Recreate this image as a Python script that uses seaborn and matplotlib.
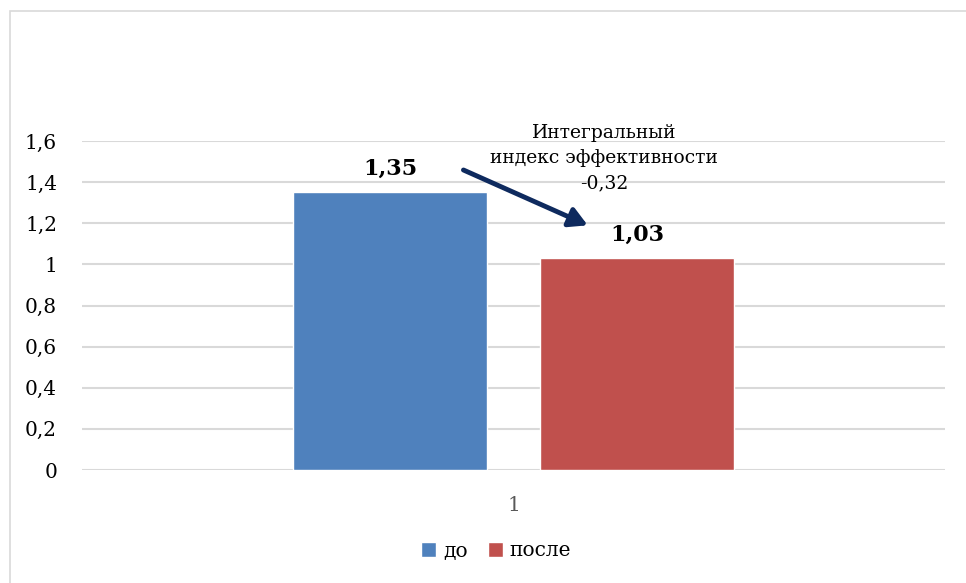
import matplotlib
matplotlib.use("Agg")
import matplotlib.pyplot as plt
import seaborn as sns
import pandas as pd
from matplotlib.patches import Rectangle

# Chart data
categories = ["1"]
series_names = ["до", "после"]
values_before = [1.35]
values_after = [1.03]
y_ticks = [0, 0.2, 0.4, 0.6, 0.8, 1.0, 1.2, 1.4, 1.6]
note_lines = ["Интегральный", "индекс эффективности", "-0,32"]

colors = ["#4F81BD", "#C0504D"]

df = pd.DataFrame({
    "cat": categories * 2,
    "series": [series_names[0]] * len(values_before) + [series_names[1]] * len(values_after),
    "value": values_before + values_after,
})

sns.set_theme(style="white")
plt.rcParams["font.family"] = ["DejaVu Serif"]
plt.rcParams["text.color"] = "black"

fig = plt.figure(figsize=(9.66, 5.83), dpi=100)
ax = fig.add_axes([82 / 966, 1 - 470 / 583, (945 - 82) / 966, (470 - 141) / 583])

sns.barplot(data=df, x="cat", y="value", hue="series", palette=colors,
            width=0.572, gap=0.213, ax=ax, saturation=1, legend=True)

ax.set_xlim(-0.5, 0.5)
ax.set_ylim(0, 1.6)
ax.set_yticks(y_ticks)
ax.set_yticklabels([f"{v:g}".replace(".", ",") for v in y_ticks])
ax.yaxis.grid(True, color="#d9d9d9", linewidth=1.5)
ax.set_axisbelow(True)
for s in ax.spines.values():
    s.set_visible(False)
ax.tick_params(axis="y", labelsize=14.5, labelcolor="black", length=0, pad=18)
ax.tick_params(axis="x", labelsize=14.5, labelcolor="#595959", length=0, pad=19)
ax.set_xlabel("")
ax.set_ylabel("")

# value labels
for cont in ax.containers:
    ax.bar_label(cont, labels=[f"{v:.2f}".replace(".", ",") for v in cont.datavalues],
                 padding=9, fontsize=16, fontweight="bold", color="black")

# change annotation
ax.annotate("", xy=(0.086, 1.19), xytext=(-0.058, 1.459),
            arrowprops=dict(arrowstyle="-|>,head_length=0.9,head_width=0.5",
                            color="#0E2A5E", lw=3.5, shrinkA=0, shrinkB=0))
ax.text(0.105, 1.517, "\n".join(note_lines), ha="center", va="center",
        fontsize=13.5, linespacing=1.5, color="black")

# legend under the plot
leg = ax.legend(loc="center", bbox_to_anchor=(496 / 966, 1 - 551 / 583),
                bbox_transform=fig.transFigure, ncol=2, frameon=False,
                fontsize=14.5, handlelength=0.75, handleheight=0.75,
                handletextpad=0.35, columnspacing=1.0)
for t in leg.get_texts():
    t.set_color("black")

# outer frame of the chart area
fig.patches.append(Rectangle((10 / 966, -0.1), 1.2, 1 - 11 / 583 + 0.1,
                             transform=fig.transFigure, fill=False,
                             edgecolor="#d9d9d9", linewidth=1.2))

fig.savefig("out.png", dpi=100)
